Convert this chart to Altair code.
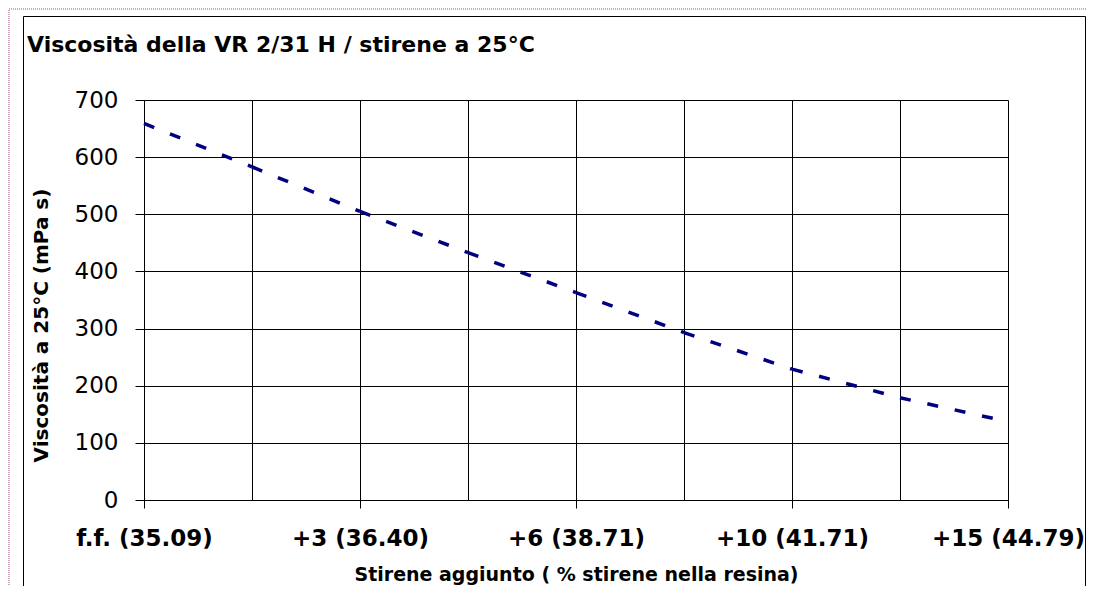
import altair as alt
import pandas as pd

# ---- data ----
tick_labels = ["f.f. (35.09)", "+3 (36.40)", "+6 (38.71)", "+10 (41.71)", "+15 (44.79)"]
category_index = [0, 1, 2, 3, 4, 5, 6, 7, 8]
viscosity = [659, 583, 505, 433, 363, 293, 229, 179, 137]
y_ticks = [0, 100, 200, 300, 400, 500, 600, 700]

title_text = "Viscosità della VR 2/31 H / stirene a 25°C"
x_title = "Stirene aggiunto ( % stirene nella resina)"
y_title = "Viscosità a 25°C (mPa s)"

# one two-point segment per category step (dash pattern restarts at each point, as in the original)
rows = []
for s in range(len(viscosity) - 1):
    for k in (s, s + 1):
        rows.append({"i": category_index[k], "v": viscosity[k], "seg": s})
df = pd.DataFrame(rows)

FONT = "DejaVu Sans"
label_js = "[" + ",".join("'%s'" % t for t in tick_labels) + "]"

x_axis = alt.Axis(
    values=category_index,
    grid=True, gridColor="#000000", gridWidth=1, gridOpacity=1,
    domain=True, domainColor="#000000", domainWidth=1,
    ticks=True, tickColor="#000000", tickSize=8, tickWidth=1,
    tickOpacity={"condition": {"test": "datum.value % 2 === 0", "value": 1}, "value": 0},
    labelExpr="datum.value % 2 === 0 ? " + label_js + "[datum.value / 2] : ''",
    labelFont=FONT, labelFontSize=23, labelFontWeight="bold", labelColor="#000000",
    labelBaseline="alphabetic", labelPadding=37, labelOverlap=False, labelFlush=False,
    title=x_title, titleFont=FONT, titleFontSize=19, titleFontWeight="bold",
    titleColor="#000000", titleBaseline="alphabetic", titleY=80,
)

y_axis = alt.Axis(
    values=y_ticks,
    grid=True, gridColor="#000000", gridWidth=1, gridOpacity=1,
    domain=True, domainColor="#000000", domainWidth=1,
    ticks=True, tickColor="#000000", tickSize=9, tickWidth=1,
    labelFont=FONT, labelFontSize=23, labelColor="#000000", labelPadding=17,
    labelBaseline="middle",
    title=y_title, titleFont=FONT, titleFontSize=20, titleFontWeight="bold",
    titleColor="#000000", titleBaseline="alphabetic", titleAngle=270,
    titleX=-97, titleY=225,
)

line = alt.Chart(df).mark_line(
    color="#000080", strokeWidth=3.5, strokeDash=[11, 17], strokeCap="butt"
).encode(
    x=alt.X("i:Q", axis=x_axis, scale=alt.Scale(domain=[0, 8], nice=False, zero=False)),
    y=alt.Y("v:Q", axis=y_axis, scale=alt.Scale(domain=[0, 700], nice=False)),
    detail="seg:N",
)

one = pd.DataFrame({"k": [0]})
page_border = alt.Chart(one).mark_rect(
    fillOpacity=0, stroke="#d6a6c0", strokeWidth=2, strokeDash=[1, 1]
).encode(x=alt.value(-135), x2=alt.value(1000), y=alt.value(-91), y2=alt.value(600))

frame = alt.Chart(one).mark_rect(
    fillOpacity=0, stroke="#000000", strokeWidth=1
).encode(x=alt.value(-120.5), x2=alt.value(941.5), y=alt.value(-83.5), y2=alt.value(600))

chart = alt.layer(page_border, frame, line).properties(
    width=864,
    height=400,
    padding={"left": 136, "top": 92, "right": 79, "bottom": 86},
    autosize=alt.AutoSizeParams(type="none"),
    background="#ffffff",
    title=alt.Title(
        title_text, anchor="start", frame="group", dx=-117, dy=66,
        font=FONT, fontSize=22, fontWeight="bold", color="#000000",
        baseline="alphabetic", offset=0,
    ),
).configure_view(strokeWidth=0)

chart.save("out.html", embed_options={"renderer": "svg", "actions": False})
